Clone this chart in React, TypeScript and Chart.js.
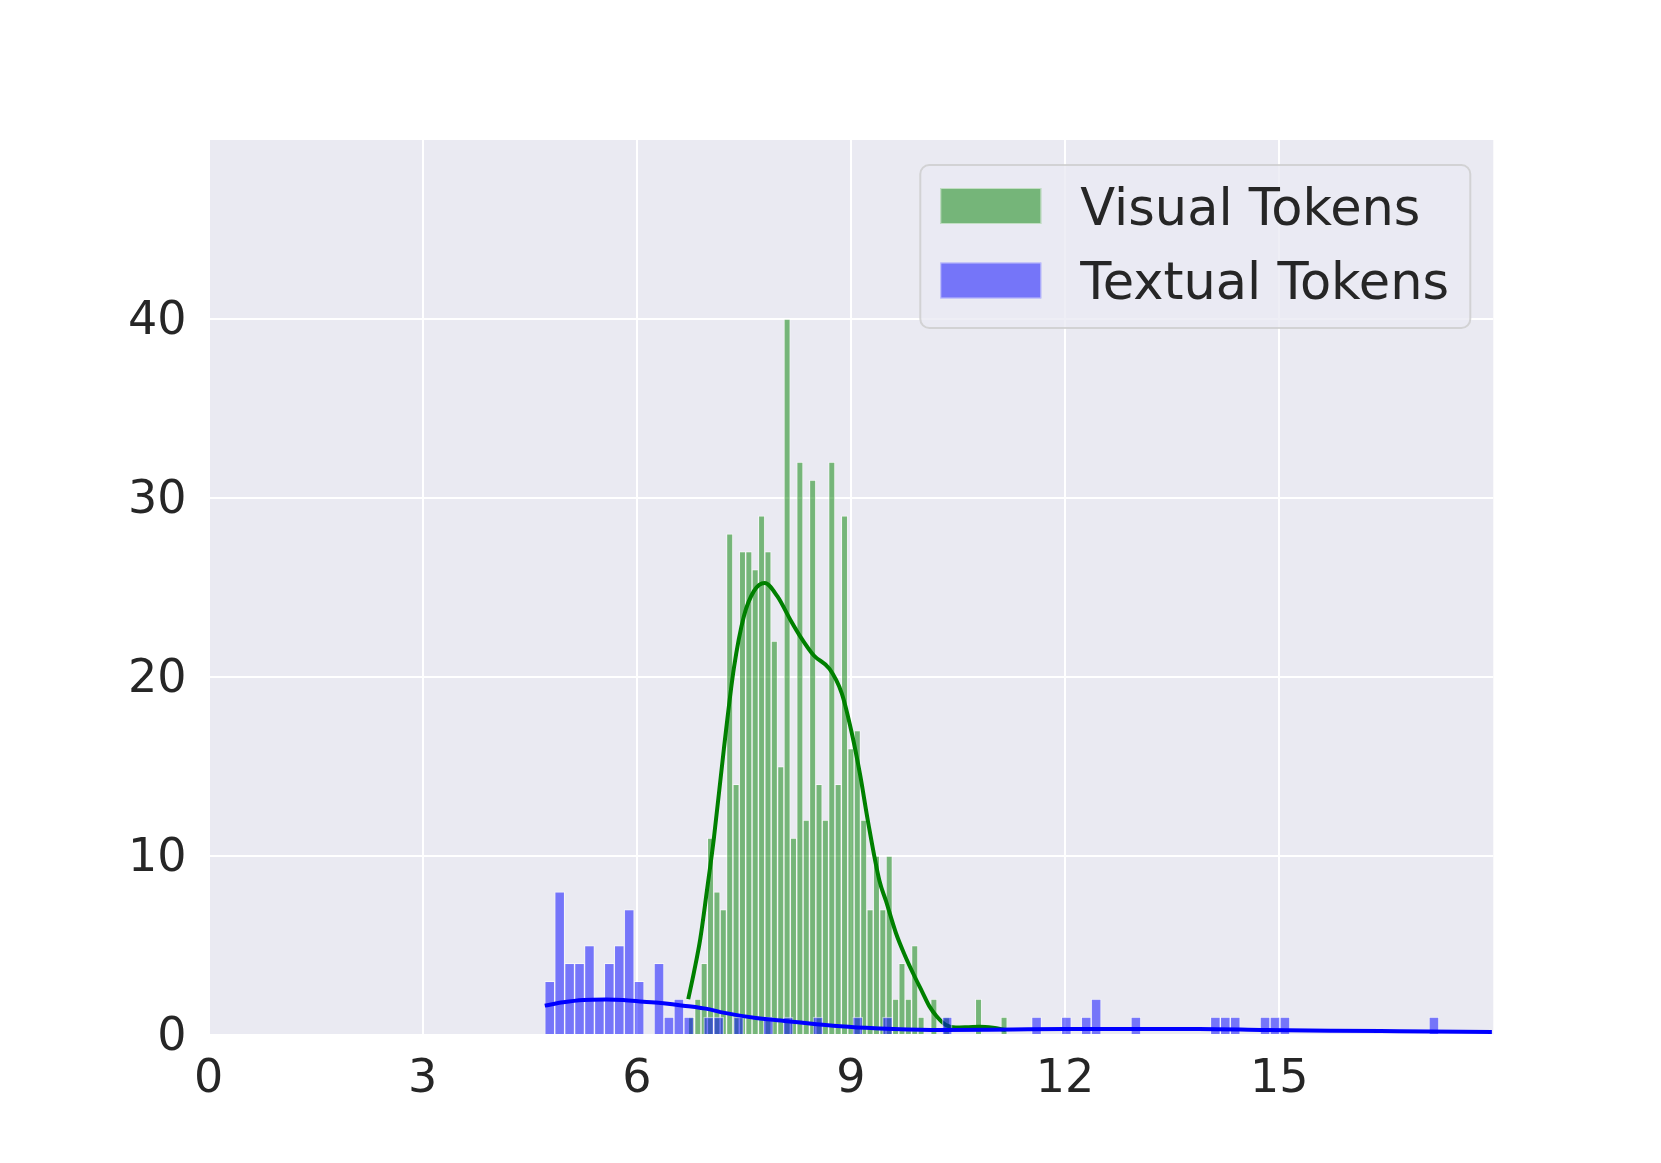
import React, { useEffect, useRef } from 'react';
import { Chart, registerables } from 'chart.js';

Chart.register(...registerables);

// Axes
const X_MIN = 0;
const X_MAX = 18;
const Y_MIN = 0;
const Y_MAX = 50;
const X_TICKS = [0, 3, 6, 9, 12, 15];
const Y_TICKS = [0, 10, 20, 30, 40];

// Legend labels
const LEGEND_LABELS = ['Visual Tokens', 'Textual Tokens'];

// Visual tokens histogram (50 bins)
const VISUAL_BIN_START = 6.72;
const VISUAL_BIN_WIDTH = 0.0894;
const VISUAL_COUNTS = [
  1, 2, 4, 11, 8, 7, 28, 14, 27, 27,
  26, 29, 27, 22, 15, 40, 11, 32, 12, 31,
  14, 12, 32, 14, 29, 16, 17, 12, 7, 10,
  7, 10, 2, 4, 2, 5, 1, 0, 2, 0,
  1, 0, 0, 0, 0, 2, 0, 0, 0, 1,
];

// Textual tokens histogram (90 bins)
const TEXTUAL_BIN_START = 4.71;
const TEXTUAL_BIN_WIDTH = 0.1392;
const TEXTUAL_COUNTS = [
  3, 8, 4, 4, 5, 2, 4, 5, 7, 3,
  0, 4, 1, 2, 1, 0, 1, 1, 0, 1,
  0, 0, 1, 0, 1, 0, 0, 1, 0, 0,
  0, 1, 0, 0, 1, 0, 0, 0, 0, 0,
  1, 0, 0, 0, 0, 0, 0, 0, 0, 1,
  0, 0, 1, 0, 1, 2, 0, 0, 0, 1,
  0, 0, 0, 0, 0, 0, 0, 1, 1, 1,
  0, 0, 1, 1, 1, 0, 0, 0, 0, 0,
  0, 0, 0, 0, 0, 0, 0, 0, 0, 1,
];

// KDE curves
const VISUAL_KDE_X = [
  6.72, 6.8, 6.89, 6.98, 7.08, 7.22, 7.36, 7.5, 7.64, 7.79, 7.97, 8.15, 8.3,
  8.48, 8.7, 8.87, 9.01, 9.13, 9.24, 9.4, 9.49, 9.63, 9.75, 9.87, 10.0, 10.1,
  10.2, 10.33, 10.47, 10.65, 10.8, 10.99, 11.17,
];
const VISUAL_KDE_Y = [
  2.0, 3.5, 5.4, 8.0, 11.0, 16.0, 20.5, 23.4, 24.8, 25.25, 24.5, 23.2, 22.2,
  21.2, 20.45, 19.1, 16.9, 14.5, 11.9, 8.6, 7.5, 5.7, 4.5, 3.45, 2.4, 1.6,
  1.05, 0.56, 0.42, 0.44, 0.46, 0.4, 0.28,
];
const TEXTUAL_KDE_X = [
  4.71, 4.97, 5.25, 5.57, 5.81, 6.09, 6.37, 6.65, 7.02, 7.21, 7.67, 8.14, 8.42,
  8.75, 9.21, 9.6, 9.96, 10.33, 11.27, 12.0, 12.76, 13.88, 14.81, 15.75, 16.68,
  17.98,
];
const TEXTUAL_KDE_Y = [
  1.64, 1.83, 1.96, 1.99, 1.96, 1.86, 1.77, 1.64, 1.43, 1.25, 0.95, 0.76, 0.64,
  0.52, 0.4, 0.33, 0.29, 0.28, 0.31, 0.33, 0.34, 0.34, 0.28, 0.24, 0.21, 0.17,
];

const GREEN_FILL = 'rgba(0,128,0,0.5)';
const BLUE_FILL = 'rgba(0,0,255,0.5)';
const BAR_EDGE = 'rgba(255,255,255,0.55)';
const TEXT_COLOR = '#262626';
const FONT = '"DejaVu Sans", "Liberation Sans", sans-serif';

function histPoints(start: number, width: number, counts: number[]) {
  const pts: { x: number; y: number }[] = [];
  counts.forEach((c, i) => {
    if (c > 0) pts.push({ x: start + (i + 0.5) * width, y: c });
  });
  return pts;
}

function zipPoints(xs: number[], ys: number[]) {
  return xs.map((x, i) => ({ x, y: ys[i] }));
}

const backgroundAndLegend = {
  id: 'backgroundAndLegend',
  beforeDraw(chart: any) {
    const { ctx, chartArea: a } = chart;
    ctx.save();
    ctx.fillStyle = '#eaeaf2';
    ctx.fillRect(a.left, a.top, a.right - a.left, a.bottom - a.top);
    ctx.restore();
  },
  afterDraw(chart: any) {
    const { ctx, chartArea: a } = chart;
    const right = a.right - 23;
    const left = right - 550;
    const top = a.top + 25;
    const bottom = top + 163;
    ctx.save();
    ctx.beginPath();
    ctx.roundRect(left, top, right - left, bottom - top, 9);
    ctx.fillStyle = 'rgba(234,234,242,0.8)';
    ctx.fill();
    ctx.lineWidth = 2;
    ctx.strokeStyle = 'rgba(204,204,204,0.8)';
    ctx.stroke();
    const fills = [GREEN_FILL, BLUE_FILL];
    const rowCenters = [top + 41, top + 115.5];
    LEGEND_LABELS.forEach((label, i) => {
      const cy = rowCenters[i];
      ctx.fillStyle = fills[i];
      ctx.fillRect(left + 20, cy - 18, 101, 36);
      ctx.strokeStyle = BAR_EDGE;
      ctx.lineWidth = 1;
      ctx.strokeRect(left + 20.5, cy - 17.5, 100, 35);
      ctx.fillStyle = TEXT_COLOR;
      ctx.font = `51px ${FONT}`;
      ctx.textBaseline = 'alphabetic';
      ctx.textAlign = 'left';
      ctx.fillText(label, left + 160, cy + 18.5);
    });
    ctx.restore();
  },
};

export default function App() {
  const canvasRef = useRef<HTMLCanvasElement | null>(null);

  useEffect(() => {
    if (!canvasRef.current) return;
    const chart = new Chart(canvasRef.current, {
      type: 'bar',
      data: {
        datasets: [
          {
            type: 'line',
            label: 'Textual KDE',
            data: zipPoints(TEXTUAL_KDE_X, TEXTUAL_KDE_Y),
            xAxisID: 'x',
            yAxisID: 'y',
            borderColor: '#0000ff',
            borderWidth: 4,
            pointRadius: 0,
            cubicInterpolationMode: 'monotone',
            fill: false,
            order: 1,
          } as any,
          {
            type: 'bar',
            label: LEGEND_LABELS[1],
            data: histPoints(TEXTUAL_BIN_START, TEXTUAL_BIN_WIDTH, TEXTUAL_COUNTS),
            xAxisID: 'x2',
            yAxisID: 'y',
            backgroundColor: BLUE_FILL,
            borderColor: BAR_EDGE,
            borderWidth: 1,
            categoryPercentage: 1,
            barPercentage: 1,
            grouped: false,
            order: 2,
          } as any,
          {
            type: 'line',
            label: 'Visual KDE',
            data: zipPoints(VISUAL_KDE_X, VISUAL_KDE_Y),
            xAxisID: 'x',
            yAxisID: 'y',
            borderColor: '#008000',
            borderWidth: 4,
            pointRadius: 0,
            cubicInterpolationMode: 'monotone',
            fill: false,
            order: 3,
          } as any,
          {
            type: 'bar',
            label: LEGEND_LABELS[0],
            data: histPoints(VISUAL_BIN_START, VISUAL_BIN_WIDTH, VISUAL_COUNTS),
            xAxisID: 'x',
            yAxisID: 'y',
            backgroundColor: GREEN_FILL,
            borderColor: BAR_EDGE,
            borderWidth: 1,
            categoryPercentage: 1,
            barPercentage: 1,
            grouped: false,
            order: 4,
          } as any,
        ],
      },
      options: {
        responsive: false,
        animation: false,
        devicePixelRatio: 1,
        layout: { padding: { top: 140, right: 167.7, bottom: 0, left: 0 } },
        plugins: {
          legend: { display: false },
          tooltip: { enabled: false },
        },
        scales: {
          x: {
            type: 'linear',
            position: 'bottom',
            offset: false,
            min: X_MIN,
            max: X_MAX,
            afterBuildTicks: (scale: any) => {
              scale.ticks = X_TICKS.map((v) => ({ value: v }));
            },
            afterFit: (scale: any) => {
              scale.height = 128;
            },
            ticks: {
              autoSkip: false,
              maxRotation: 0,
              padding: 17,
              color: TEXT_COLOR,
              font: { family: FONT, size: 46 },
              callback: (v: any) => String(v),
            },
            grid: { color: '#ffffff', lineWidth: 2, drawTicks: false, offset: false },
            border: { display: false },
          },
          x2: {
            type: 'linear',
            display: false,
            offset: false,
            min: X_MIN,
            max: X_MAX,
            grid: { offset: false },
          },
          y: {
            type: 'linear',
            min: Y_MIN,
            max: Y_MAX,
            afterBuildTicks: (scale: any) => {
              scale.ticks = Y_TICKS.map((v) => ({ value: v }));
            },
            afterFit: (scale: any) => {
              scale.width = 208.6;
            },
            ticks: {
              padding: 22,
              labelOffset: 3,
              color: TEXT_COLOR,
              font: { family: FONT, size: 46 },
              callback: (v: any) => String(v),
            },
            grid: { color: '#ffffff', lineWidth: 2, drawTicks: false },
            border: { display: false },
          },
        },
      } as any,
      plugins: [backgroundAndLegend],
    });
    return () => chart.destroy();
  }, []);

  return (
    <div style={{ position: 'fixed', left: 0, top: 0, width: 1661, height: 1163, background: '#ffffff' }}>
      <canvas ref={canvasRef} width={1661} height={1163} />
    </div>
  );
}
